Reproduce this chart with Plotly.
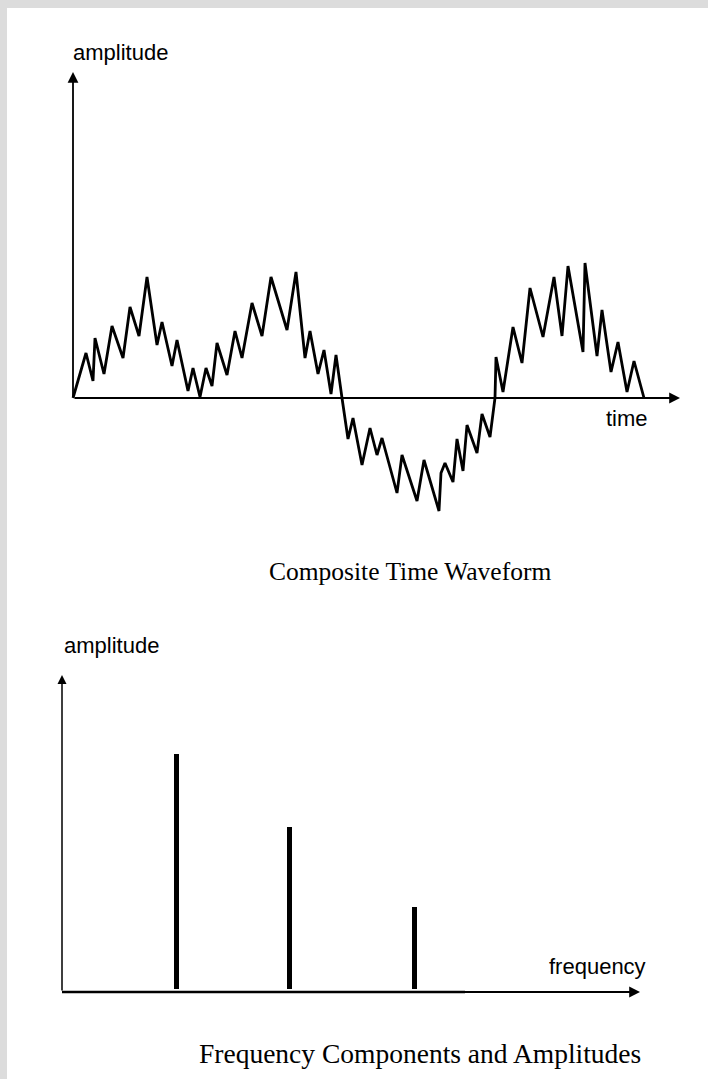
import plotly.graph_objects as go

# ---------------- data ----------------
# Composite time waveform: vertices (time, amplitude), arbitrary units
wave_time = [0, 13, 20, 22, 31, 39, 50, 57, 66, 74, 84, 89, 99, 104, 115, 120, 127,
             133, 139, 144, 154, 162, 169, 179, 189, 198, 214, 223, 232, 237, 245, 251,
             258, 263, 269, 275, 280, 289, 297, 304, 309, 324, 329, 344, 351, 366, 368,
             372, 380, 384, 390, 394, 404, 409, 417, 422, 423, 430, 440, 449, 457, 470,
             481, 489, 495, 510, 512, 524, 529, 538, 545, 554, 561, 571]
wave_amp = [0, 45, 17, 60, 24, 72, 40, 91, 62, 121, 53, 76, 32, 58, 7, 30, 1,
            30, 12, 55, 23, 67, 40, 95, 62, 121, 68, 126, 40, 67, 24, 48,
            4, 43, 0, -41, -20, -67, -30, -57, -40, -95, -57, -103, -62, -113, -75,
            -65, -84, -41, -73, -27, -55, -16, -39, 0, 41, 6, 71, 35, 110, 61,
            121, 62, 132, 46, 135, 42, 88, 26, 56, 6, 37, 0]

# Frequency components
freq_pos = [114, 227, 352]
freq_amp = [235, 162, 82]

W, H = 708, 1079


def px(x):
    return x / W


def py(y):
    return 1 - y / H


fig = go.Figure()

# top chart: waveform
fig.add_trace(go.Scatter(x=wave_time, y=wave_amp, mode="lines",
                         line=dict(color="black", width=2.8),
                         xaxis="x", yaxis="y", showlegend=False, hoverinfo="skip"))

# bottom chart: spectral lines
fig.add_trace(go.Bar(x=freq_pos, y=freq_amp, base=3, width=5,
                     marker=dict(color="black", line=dict(width=0)),
                     xaxis="x2", yaxis="y2", showlegend=False, hoverinfo="skip"))

top_x = [40, 700]
top_y = [50, 540]
bot_x = [40, 700]
bot_y = [620, 1020]

ax_common = dict(visible=False, showgrid=False, zeroline=False, fixedrange=True)

fig.update_layout(
    width=W, height=H,
    margin=dict(l=0, r=0, t=0, b=0),
    paper_bgcolor="#dcdcdc",
    plot_bgcolor="rgba(0,0,0,0)",
    xaxis=dict(domain=[px(top_x[0]), px(top_x[1])],
               range=[top_x[0] - 73, top_x[1] - 73], anchor="y", **ax_common),
    yaxis=dict(domain=[py(top_y[1]), py(top_y[0])],
               range=[398 - top_y[1], 398 - top_y[0]], anchor="x", **ax_common),
    xaxis2=dict(domain=[px(bot_x[0]), px(bot_x[1])],
                range=[bot_x[0] - 62, bot_x[1] - 62], anchor="y2", **ax_common),
    yaxis2=dict(domain=[py(bot_y[1]), py(bot_y[0])],
                range=[992 - bot_y[1], 992 - bot_y[0]], anchor="x2", **ax_common),
    bargap=0,
    showlegend=False,
)

# white page area over gray border
fig.add_shape(type="rect", xref="paper", yref="paper",
              x0=px(7), x1=1.0, y0=0.0, y1=py(8),
              fillcolor="white", line=dict(width=0), layer="below")

# thicker first part of bottom x axis
fig.add_shape(type="line", xref="x2", yref="y2", x0=0, x1=403, y0=0, y1=0,
              line=dict(color="black", width=2.6))

annotations = []


def arrow(xref, yref, x0, y0, x1, y1, w=1.8):
    annotations.append(dict(xref=xref, yref=yref, axref=xref, ayref=yref,
                            x=x1, y=y1, ax=x0, ay=y0, text="",
                            showarrow=True, arrowhead=2, arrowsize=1.2,
                            arrowwidth=w, arrowcolor="black", standoff=0))


# top axes
arrow("x", "y", 0, 0, 607, 0)
arrow("x", "y", 0, 0, 0, 326)
# bottom axes
arrow("x2", "y2", 0, 0, 578, 0)
arrow("x2", "y2", 0, 0, 0, 317, w=1.5)

sans = "Liberation Sans, Arial, sans-serif"
serif = "Liberation Serif, Times New Roman, serif"


def label(text, x, y, size, family):
    annotations.append(dict(xref="paper", yref="paper", x=px(x), y=py(y),
                            xanchor="left", yanchor="middle", text=text,
                            showarrow=False,
                            font=dict(family=family, size=size, color="black")))


label("amplitude", 71, 52, 22, sans)
label("time", 604, 418, 22, sans)
label("Composite Time Waveform", 267, 571, 25.5, serif)
label("amplitude", 62, 645, 22, sans)
label("frequency", 547, 966, 22, sans)
label("Frequency Components and Amplitudes", 197, 1053, 27.5, serif)

fig.update_layout(annotations=annotations)

fig.write_html("out.html",
               config={"displayModeBar": False, "staticPlot": True},
               post_script="document.body.style.margin='0';"
                           "document.body.style.overflow='hidden';")
